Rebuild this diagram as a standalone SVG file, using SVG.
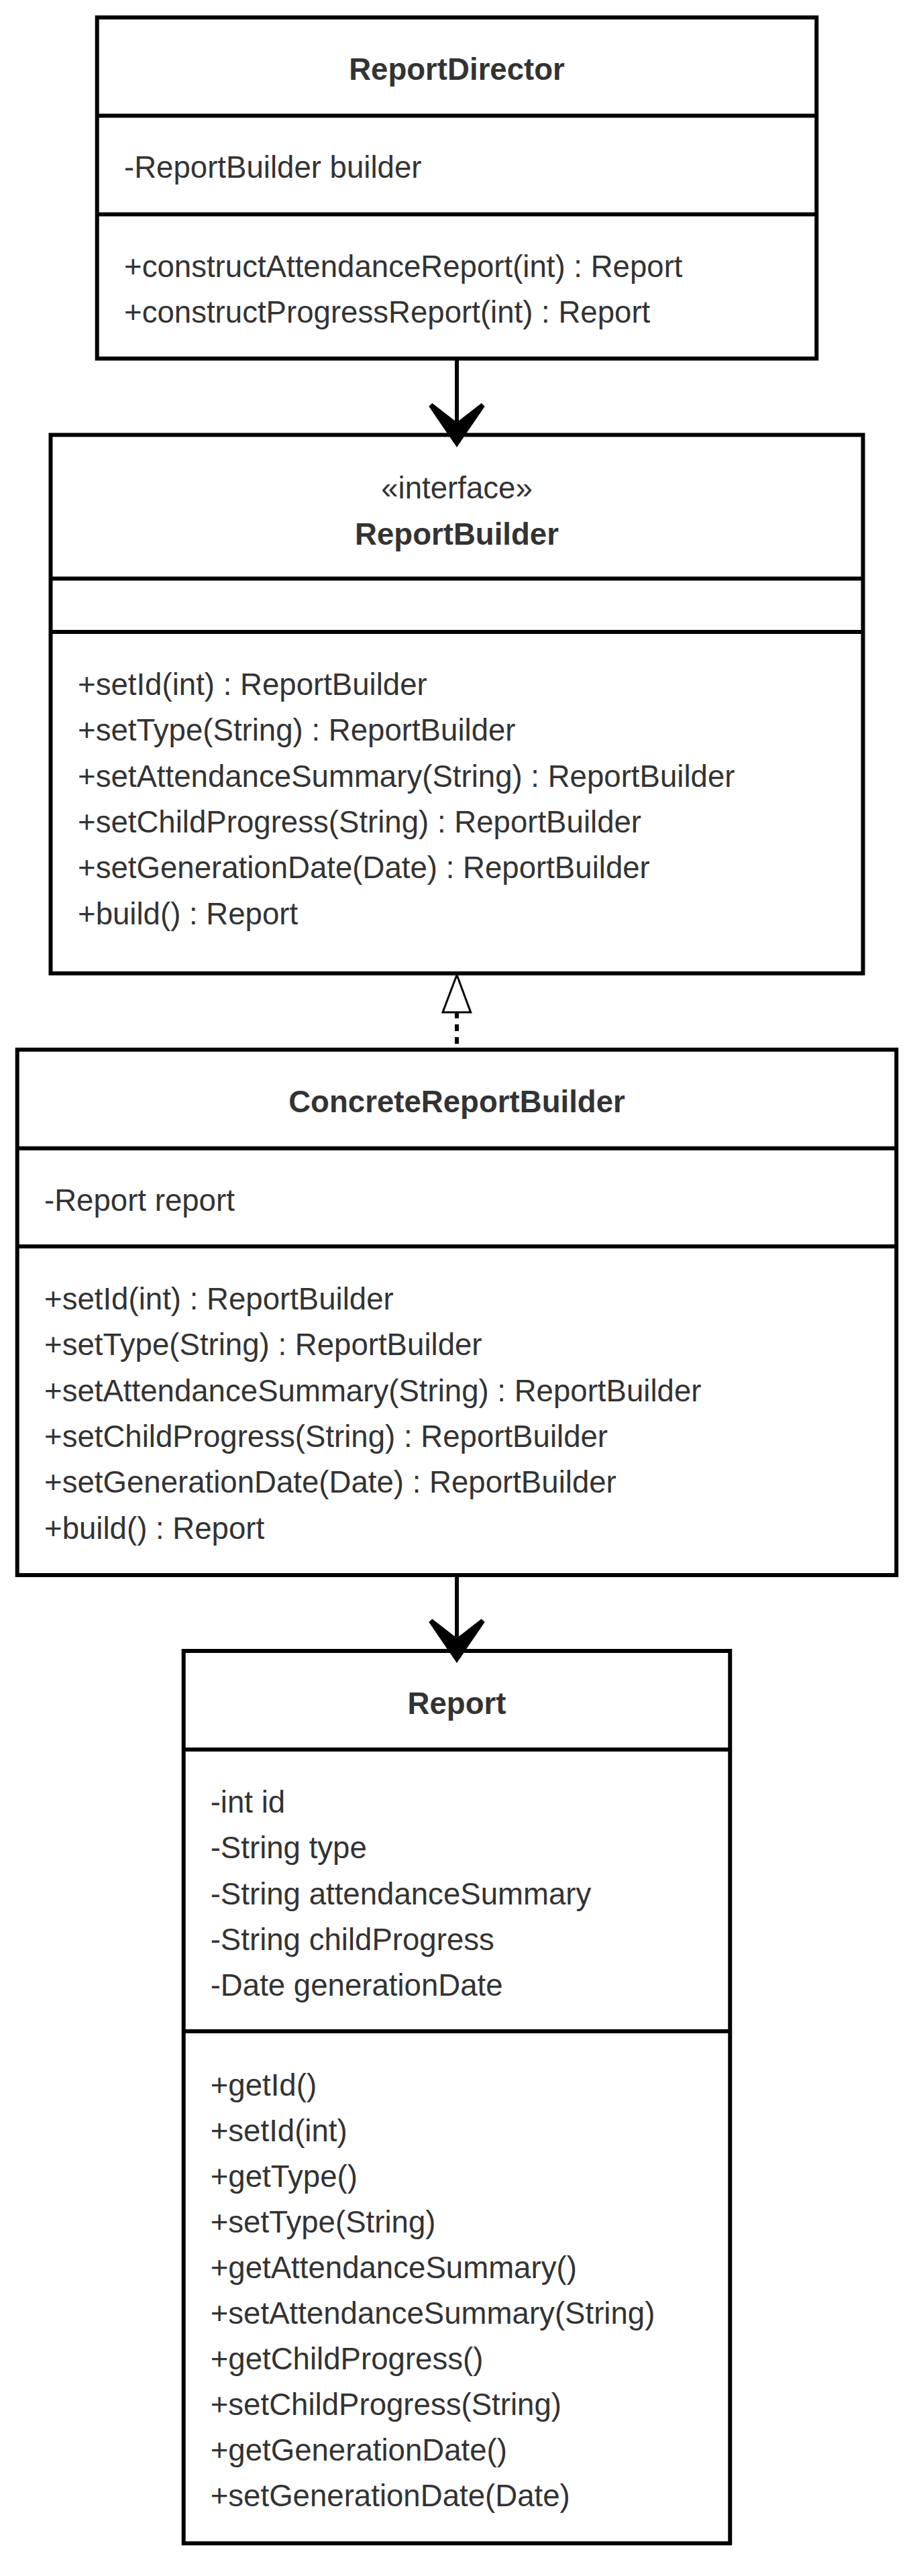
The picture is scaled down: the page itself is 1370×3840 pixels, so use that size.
<svg xmlns="http://www.w3.org/2000/svg" xmlns:xlink="http://www.w3.org/1999/xlink" width="1370" height="3840" viewBox="0 0 1370 3840">
<style>
.box{fill:#ffffff;stroke:#000000;stroke-width:6}
.div{stroke:#000000;stroke-width:6;fill:none}
.t{font-family:"Liberation Sans",Arial,sans-serif;font-size:45.6px;fill:#333333}
.b{font-weight:bold}
.c{text-anchor:middle}
.conn{stroke:#000000;stroke-width:6;fill:none}
</style>
<defs>
<polygon id="openArrow" points="-41.7,-61 -36.7,-65.7 0,-37.3 36.7,-65.7 41.7,-61 0,0" fill="#000000"/>
</defs>
<rect width="1370" height="3840" fill="#ffffff"/>

<g id="ReportDirector">
<rect class="box" x="144.7" y="26" width="1072.6" height="508.5"/>
<line class="div" x1="144.7" y1="172.5" x2="1217.3" y2="172.5"/>
<line class="div" x1="144.7" y1="319.5" x2="1217.3" y2="319.5"/>
<text class="t b c" x="681" y="119">ReportDirector</text>
<text class="t" x="185" y="265">-ReportBuilder builder</text>
<text class="t" x="185" y="413">+constructAttendanceReport(int) : Report</text>
<text class="t" x="185" y="481">+constructProgressReport(int) : Report</text>
</g>

<g id="ReportBuilder">
<rect class="box" x="75.5" y="648.3" width="1211" height="802.7"/>
<line class="div" x1="75.5" y1="862.5" x2="1286.5" y2="862.5"/>
<line class="div" x1="75.5" y1="942" x2="1286.5" y2="942"/>
<text class="t c" x="681" y="743">«interface»</text>
<text class="t b c" x="681" y="812">ReportBuilder</text>
<text class="t" x="116" y="1036">+setId(int) : ReportBuilder</text>
<text class="t" x="116" y="1104.3">+setType(String) : ReportBuilder</text>
<text class="t" x="116" y="1172.6">+setAttendanceSummary(String) : ReportBuilder</text>
<text class="t" x="116" y="1240.9">+setChildProgress(String) : ReportBuilder</text>
<text class="t" x="116" y="1309.2">+setGenerationDate(Date) : ReportBuilder</text>
<text class="t" x="116" y="1377.5">+build() : Report</text>
</g>

<g id="ConcreteReportBuilder">
<rect class="box" x="25.7" y="1564.7" width="1310.6" height="783.3"/>
<line class="div" x1="25.7" y1="1711.7" x2="1336.3" y2="1711.7"/>
<line class="div" x1="25.7" y1="1858" x2="1336.3" y2="1858"/>
<text class="t b c" x="681" y="1658">ConcreteReportBuilder</text>
<text class="t" x="66" y="1805">-Report report</text>
<text class="t" x="66" y="1952">+setId(int) : ReportBuilder</text>
<text class="t" x="66" y="2020.3">+setType(String) : ReportBuilder</text>
<text class="t" x="66" y="2088.6">+setAttendanceSummary(String) : ReportBuilder</text>
<text class="t" x="66" y="2156.9">+setChildProgress(String) : ReportBuilder</text>
<text class="t" x="66" y="2225.2">+setGenerationDate(Date) : ReportBuilder</text>
<text class="t" x="66" y="2293.5">+build() : Report</text>
</g>

<g id="Report">
<rect class="box" x="273.7" y="2461" width="814.6" height="1330.3"/>
<line class="div" x1="273.7" y1="2608" x2="1088.3" y2="2608"/>
<line class="div" x1="273.7" y1="3028" x2="1088.3" y2="3028"/>
<text class="t b c" x="681" y="2555">Report</text>
<text class="t" x="313.7" y="2702">-int id</text>
<text class="t" x="313.7" y="2770.3">-String type</text>
<text class="t" x="313.7" y="2838.6">-String attendanceSummary</text>
<text class="t" x="313.7" y="2906.9">-String childProgress</text>
<text class="t" x="313.7" y="2975.2">-Date generationDate</text>
<text class="t" x="313.7" y="3124">+getId()</text>
<text class="t" x="313.7" y="3192">+setId(int)</text>
<text class="t" x="313.7" y="3260">+getType()</text>
<text class="t" x="313.7" y="3328">+setType(String)</text>
<text class="t" x="313.7" y="3396">+getAttendanceSummary()</text>
<text class="t" x="313.7" y="3464">+setAttendanceSummary(String)</text>
<text class="t" x="313.7" y="3532">+getChildProgress()</text>
<text class="t" x="313.7" y="3600">+setChildProgress(String)</text>
<text class="t" x="313.7" y="3668">+getGenerationDate()</text>
<text class="t" x="313.7" y="3736">+setGenerationDate(Date)</text>
</g>

<g id="connectors">
<line class="conn" x1="681" y1="534.5" x2="681" y2="632"/>
<use xlink:href="#openArrow" x="681" y="666.7"/>
<line class="conn" x1="681" y1="1556" x2="681" y2="1509" stroke-dasharray="10 9"/>
<polygon points="681,1453.3 660,1509 701.7,1509" fill="#ffffff" stroke="#000000" stroke-width="3" stroke-linejoin="miter"/>
<line class="conn" x1="681" y1="2348" x2="681" y2="2444"/>
<use xlink:href="#openArrow" x="681" y="2479"/>
</g>
</svg>
